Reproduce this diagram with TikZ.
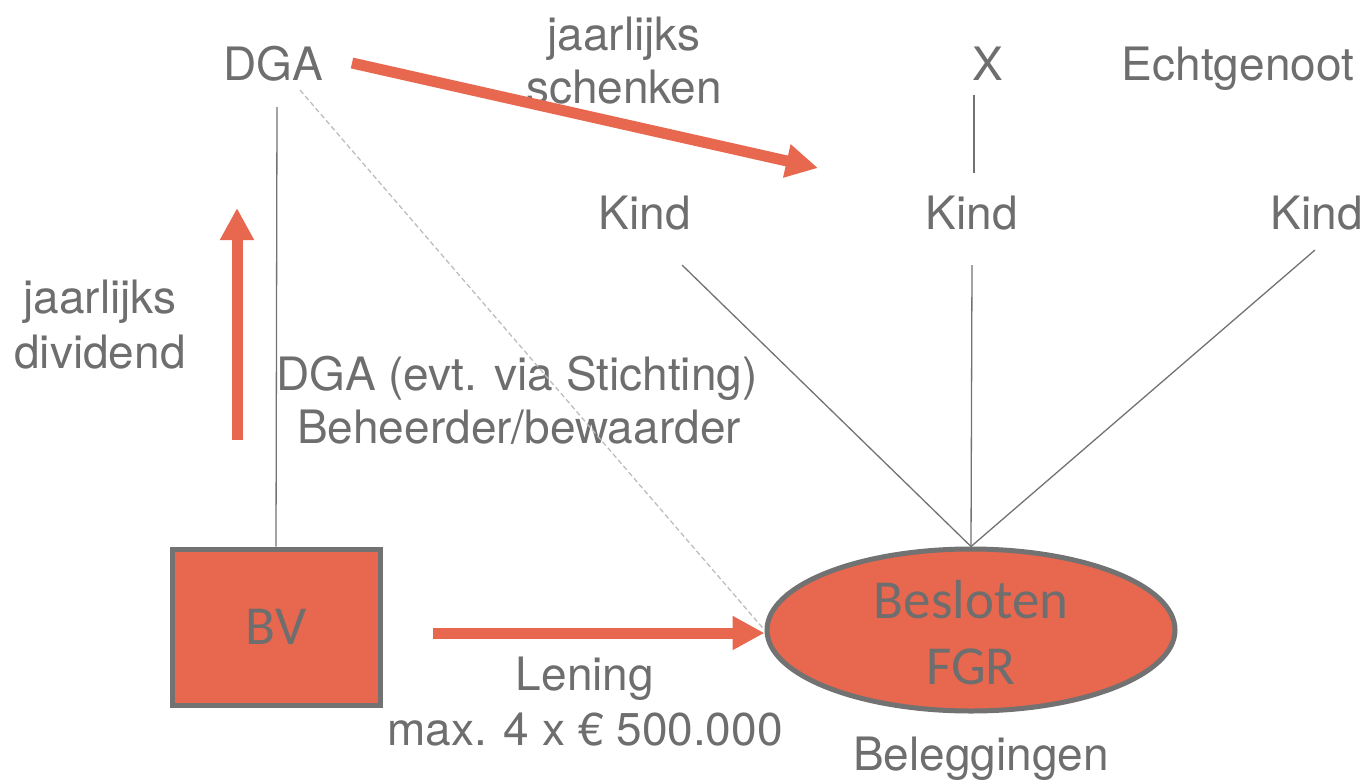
\documentclass[tikz,border=0pt]{standalone}
\usepackage{fontspec}
\setmainfont{TeX Gyre Heros}
\newfontfamily\boxfont{Carlito}
\usetikzlibrary{arrows.meta,shapes.geometric}
\definecolor{fgrorange}{HTML}{E8674F}
\definecolor{txtgrey}{HTML}{6E6E6E}
\definecolor{edgegrey}{HTML}{727272}
\definecolor{dashgrey}{HTML}{BDBDBD}
\tikzset{
  lbl/.style={text=txtgrey, font=\fontsize{46}{53}\selectfont, inner sep=0pt, anchor=base, align=center},
  flow/.style={draw=fgrorange, line width=11pt, -{Triangle[length=32pt,width=32pt]}},
  tie/.style={draw=edgegrey, line width=1.3pt},
  boxed/.style={draw=edgegrey, line width=5pt, fill=fgrorange, text=txtgrey, font=\boxfont\fontsize{55}{66}\selectfont, align=center},
}
\begin{document}
\begin{tikzpicture}[x=1pt,y=-1pt]
\useasboundingbox (0,0) rectangle (1370,782);

% people
\node[lbl] (dga) at (273,80) {DGA};
\node[lbl] (x) at (988,80) {X};
\node[lbl] (echt) at (1238,80) {Echtgenoot};
\node[lbl] (kind1) at (645,229) {Kind};
\node[lbl] (kind2) at (972,229) {Kind};
\node[lbl] (kind3) at (1317,229) {Kind};

% entities
\node[boxed, minimum width=208pt, minimum height=156pt] (bv) at (276,627) {BV};
\node[boxed, ellipse, minimum width=408pt, minimum height=162pt, inner sep=0pt] (fgr) at (971,630) {};
\node[text=txtgrey, font=\boxfont\fontsize{55}{66}\selectfont, inner sep=0pt, anchor=base] (fgr1) at (971,618) {Besloten};
\node[text=txtgrey, font=\boxfont\fontsize{55}{66}\selectfont, inner sep=0pt, anchor=base] (fgr2) at (971,684) {FGR};

% labels
\node[lbl] (schenk1) at (624,50) {jaarlijks};
\node[lbl] (schenk2) at (624,103) {schenken};
\node[lbl] (div1) at (100,313) {jaarlijks};
\node[lbl] (div2) at (100,368) {dividend};
\node[lbl] (beh1) at (517,390) {DGA (evt. via Stichting)};
\node[lbl] (beh2) at (519,443) {Beheerder/bewaarder};
\node[lbl] (len1) at (585,690) {Lening};
\node[lbl] (len2) at (585,745) {max. 4 x € 500.000};
\node[lbl] (bel) at (981,770) {Beleggingen};

% connector end points
\coordinate (dgafoot) at (277,107);
\coordinate (dgacorner) at (300,90);
\coordinate (xfoot) at (974,95);
\coordinate (xstop) at (974,173);
\coordinate (k1) at (682,265);
\coordinate (k2) at (972,265);
\coordinate (k3) at (1315,250);
\coordinate (giftstart) at (352,63);
\coordinate (giftend) at (818,168);
\coordinate (divstart) at (237,440);
\coordinate (divend) at (237,208);
\coordinate (loanstart) at (433,633);

% ties
\draw[tie] (dgafoot) -- (bv.north);
\draw[tie] (xfoot) -- (xstop);
\draw[tie] (k1) -- (fgr.north);
\draw[tie] (k2) -- (fgr.north);
\draw[tie] (k3) -- (fgr.north);
\draw[draw=dashgrey, line width=1.3pt, dash pattern=on 5pt off 3pt] (dgacorner) -- (fgr.west);

% flows
\draw[flow] (giftstart) -- (giftend);
\draw[flow] (divstart) -- (divend);
\draw[flow] (loanstart) -- (loanstart -| fgr.west);
\end{tikzpicture}
\end{document}
